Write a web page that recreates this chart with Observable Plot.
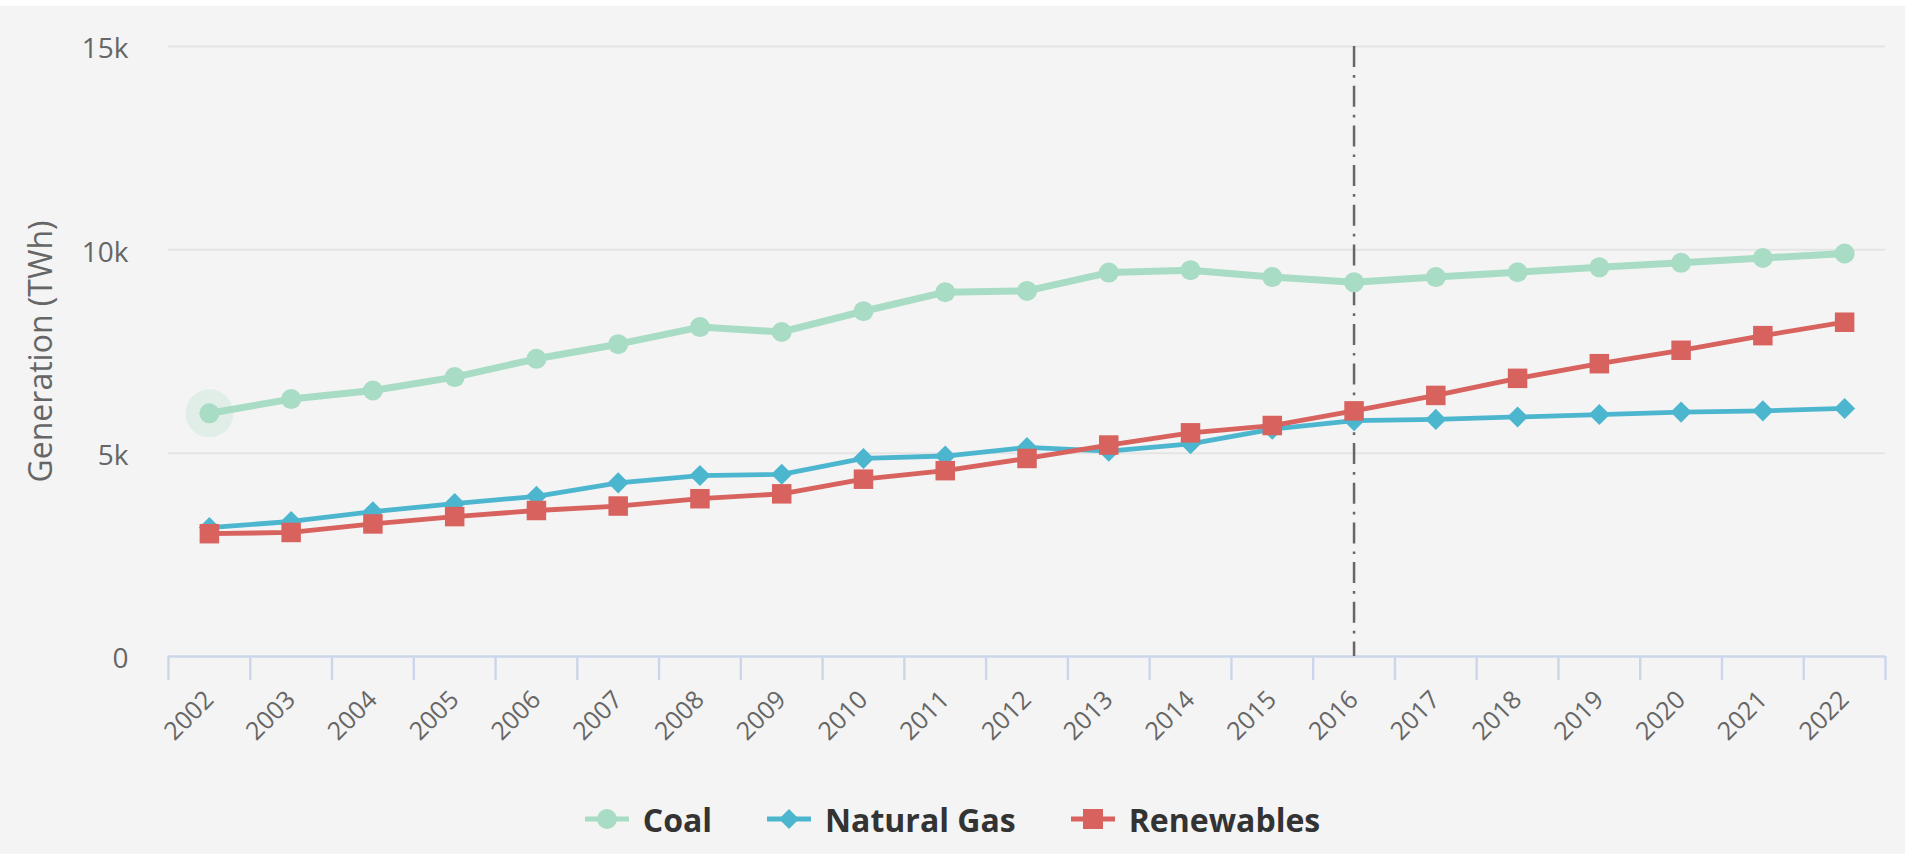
<!DOCTYPE html>
<html><head><meta charset="utf-8">
<script src="https://cdn.jsdelivr.net/npm/d3@7"></script>
<script src="https://cdn.jsdelivr.net/npm/@observablehq/plot@0.6"></script>
<style>
html,body{margin:0;padding:0;background:#fff;overflow:hidden}
#wrap{margin-top:6px;width:1905px;height:848px;background:#f4f4f4;position:relative;font-family:"Open Sans",sans-serif}
#legend{height:88px;box-sizing:border-box;padding-top:18px;display:flex;justify-content:center;align-items:center;gap:55px;font-weight:700;font-size:32px;color:#333}
.item{display:flex;align-items:center;gap:14px}
.item svg{display:block}
</style></head>
<body><div id="wrap"><div id="chart"></div><div id="legend"></div></div>
<script>
const years = [2002,2003,2004,2005,2006,2007,2008,2009,2010,2011,2012,2013,2014,2015,2016,2017,2018,2019,2020,2021,2022];
const coal = [5980,6330,6540,6870,7320,7680,8100,7980,8490,8960,8990,9440,9500,9330,9200,9330,9450,9570,9680,9800,9910];
const naturalGas = [3170,3320,3560,3760,3940,4270,4450,4480,4870,4930,5140,5050,5230,5590,5800,5830,5890,5950,6010,6040,6100];
const renewables = [3020,3050,3260,3440,3590,3700,3880,4000,4360,4570,4870,5200,5500,5680,6040,6420,6840,7200,7530,7890,8220];
const seriesNames = ["Coal","Natural Gas","Renewables"];
const seriesColors = ["#a8dcc5","#4db6cf","#d8625e"];
const yTicks = [0,5000,10000,15000];
const yTickLabels = ["0","5k","10k","15k"];
const markerYear = 2016;
const highlightIndex = 0;
const yTitle = "Generation (TWh)";

const xEdges = [...years.map(y => y - 0.5), years[years.length - 1] + 0.5];
const [cCoal, cGas, cRen] = seriesColors;

const plot = Plot.plot({
  width: 1905, height: 760,
  marginLeft: 168, marginRight: 20, marginTop: 40, marginBottom: 110,
  style: {background: "transparent", fontFamily: "'Open Sans', sans-serif", fontSize: "25px", color: "#666", overflow: "visible"},
  x: {type: "linear", domain: [xEdges[0], xEdges[xEdges.length - 1]]},
  y: {domain: [0, 15000]},
  marks: [
    Plot.gridY(yTicks.slice(1), {stroke: "#e4e4e4", strokeOpacity: 1, strokeWidth: 2}),
    Plot.ruleY([0], {stroke: "#ccd6eb", strokeWidth: 2.4}),
    Plot.axisX(xEdges, {tickFormat: () => "", tickSize: 24, stroke: "#ccd6eb", strokeWidth: 2.4, strokeOpacity: 1, label: null}),
    Plot.axisX(years, {tickSize: 0, tickRotate: -45, tickPadding: 39, tickFormat: d => String(d), fill: "#666", fontSize: 25, label: null}),
    Plot.axisY(yTicks, {tickSize: 0, tickPadding: 40, tickFormat: d => yTickLabels[yTicks.indexOf(d)], dy: 3, label: null, fill: "#666", fontSize: 28}),
    Plot.text([yTitle], {frameAnchor: "left", textAnchor: "middle", rotate: -90, dx: -127, dy: 0, fill: "#666", fontSize: 32}),
    Plot.ruleX([markerYear], {y1: 15000, y2: 0, stroke: "#666", strokeWidth: 2.5, strokeDasharray: "21,8,2.7,8"}),
    Plot.dot([highlightIndex], {x: i => years[i], y: i => coal[i], r: 24, fill: cCoal, fillOpacity: 0.25}),
    Plot.line(years, {x: d => d, y: (d, i) => coal[i], stroke: cCoal, strokeWidth: 7}),
    Plot.dot(years, {x: d => d, y: (d, i) => coal[i], r: 10, fill: cCoal, symbol: "circle"}),
    Plot.line(years, {x: d => d, y: (d, i) => naturalGas[i], stroke: cGas, strokeWidth: 4.8}),
    Plot.dot(years, {x: d => d, y: (d, i) => naturalGas[i], r: 9.5, fill: cGas, symbol: "diamond2"}),
    Plot.line(years, {x: d => d, y: (d, i) => renewables[i], stroke: cRen, strokeWidth: 4.8}),
    Plot.dot(years, {x: d => d, y: (d, i) => renewables[i], r: 11, fill: cRen, symbol: "square"})
  ]
});
document.getElementById("chart").appendChild(plot);

const shapes = {
  "Coal": c => `<circle cx="22" cy="12" r="10" fill="${c}"/>`,
  "Natural Gas": c => `<path d="M22 2 L32 12 L22 22 L12 12 Z" fill="${c}"/>`,
  "Renewables": c => `<rect x="12" y="2" width="20" height="20" fill="${c}"/>`
};
const legend = document.getElementById("legend");
seriesNames.forEach((name, i) => {
  const c = seriesColors[i];
  const item = document.createElement("div");
  item.className = "item";
  item.innerHTML = `<svg width="44" height="24"><line x1="0" x2="44" y1="12" y2="12" stroke="${c}" stroke-width="5"/>${shapes[name](c)}</svg><span>${name}</span>`;
  legend.appendChild(item);
});
</script>
</body></html>
